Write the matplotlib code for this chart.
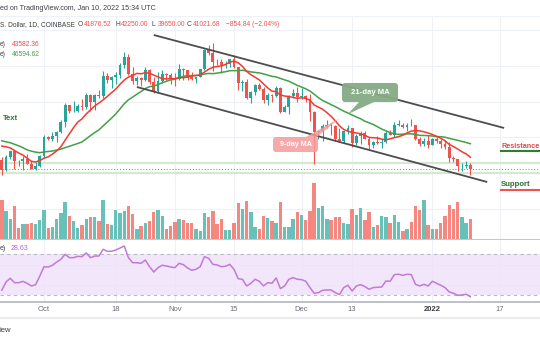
import numpy as np
import pandas as pd
import matplotlib
matplotlib.use("Agg")
import matplotlib.pyplot as plt
from matplotlib.patches import FancyBboxPatch, Polygon

plt.rcParams['font.family'] = ['Liberation Sans', 'DejaVu Sans']

# =========================
# DATA (BTC/USD daily, Coinbase)
# =========================
dates = pd.date_range("2021-09-21", "2022-01-10", freq="D")

opens = [42930, 40700, 43580, 44880, 42840, 42720, 43200, 42170, 41030, 41520,
         43790, 48140, 47660, 48230, 49250, 51510, 55340, 53800, 53970, 54960,
         54680, 57480, 56010, 57370, 57350, 61670, 60880, 61530, 62030, 64260,
         65990, 62210, 60690, 61300, 60860, 63080, 60330, 58450, 60590, 62250,
         61880, 61320, 60950, 63230, 62940, 61430, 61010, 61530, 63290, 67550,
         66940, 64880, 64800, 64150, 64400, 65500, 63600, 60100, 60370, 56900,
         58120, 59730, 58720, 56290, 57570, 57180, 58960, 53730, 54750, 57280,
         57830, 56980, 57200, 56510, 53600, 49200, 49400, 50580, 50620, 50500,
         47600, 47150, 49350, 50100, 46700, 48380, 48900, 47660, 46200, 46880,
         46700, 46900, 48950, 48600, 50820, 50850, 50430, 50800, 50700, 47540,
         46460, 47120, 46210, 47720, 47300, 46440, 45820, 43430, 43100, 41550,
         41690, 41876.52]
highs = [43640, 44000, 44980, 45100, 42980, 43950, 44350, 42800, 42600, 44100,
         48490, 48350, 49230, 49510, 51900, 55750, 55340, 56100, 55500, 56500,
         57800, 57680, 57760, 58530, 62900, 62340, 61700, 62700, 64500, 67000,
         66650, 63700, 61750, 61490, 63710, 63280, 61500, 62500, 62950, 62300,
         62420, 62400, 64280, 63540, 63140, 62600, 61570, 63290, 67800, 68520,
         69000, 65600, 65450, 64950, 65540, 66300, 63620, 60800, 60980, 58400,
         59850, 60050, 59300, 57870, 57740, 59400, 59180, 55300, 57450, 58880,
         59200, 59050, 57400, 57600, 53860, 49700, 50900, 51950, 51200, 50800,
         50100, 49500, 50750, 50200, 48700, 49500, 49450, 48000, 47300, 48300,
         47550, 49350, 49580, 51350, 51850, 51150, 51250, 52050, 50700, 48120,
         47900, 48550, 47950, 47990, 47570, 47500, 47070, 43750, 43140, 42300,
         42800, 42250]
lows = [39600, 40570, 43100, 40900, 41650, 40800, 42100, 40900, 40800, 41420,
        43300, 47430, 47120, 46900, 49050, 50400, 53400, 53650, 53700, 54100,
        54420, 53880, 54200, 56830, 56850, 60150, 58960, 59850, 61330, 63500,
        62000, 60000, 59700, 59530, 60650, 59900, 58000, 57820, 60170, 60700,
        60000, 59500, 60700, 60900, 60700, 60750, 60100, 61400, 63100, 66300,
        62800, 64100, 62300, 63400, 63600, 63530, 58600, 58400, 56500, 55600,
        57400, 58500, 55650, 55300, 55900, 57000, 53550, 53650, 53300, 56700,
        55900, 56500, 55850, 51700, 42000, 47700, 47100, 50000, 48600, 47300,
        46900, 46700, 48700, 45900, 46300, 46600, 47550, 45500, 45600, 46450,
        45550, 46650, 48450, 48080, 50450, 50200, 49450, 50450, 47350, 46100,
        46000, 45680, 46200, 46650, 45700, 45500, 42500, 42450, 40600, 40500,
        41250, 39650]
closes = [40700, 43580, 44880, 42840, 42720, 43200, 42170, 41030, 41520, 43790,
          48140, 47660, 48230, 49250, 51510, 55340, 53800, 53970, 54960, 54680,
          57480, 56010, 57370, 57350, 61670, 60880, 61530, 62030, 64260, 65990,
          62210, 60690, 61300, 60860, 63080, 60330, 58450, 60590, 62250, 61880,
          61320, 60950, 63230, 62940, 61430, 61010, 61530, 63290, 67550, 66940,
          64880, 64800, 64150, 64400, 65500, 63600, 60100, 60370, 56900, 58120,
          59730, 58720, 56290, 57570, 57180, 58960, 53730, 54750, 57280, 57830,
          56980, 57200, 56510, 53600, 49200, 49400, 50580, 50620, 50500, 47600,
          47150, 49350, 50100, 46700, 48380, 48900, 47660, 46200, 46880, 46700,
          46900, 48950, 48600, 50820, 50850, 50430, 50800, 50700, 47540, 46460,
          47120, 46210, 47720, 47300, 46440, 45820, 43430, 43100, 41550, 41690,
          41880, 41021.68]
# closes Sep 1 - Sep 20, only used to warm up the moving averages
pre_close = [48800, 49300, 50000, 49900, 51800, 52700, 46900, 46100, 46400, 44900,
             45200, 46100, 44900, 47100, 48100, 47800, 47300, 48300, 47300, 43000]

# volume, thousand BTC
volume = [27.1, 19.8, 14.0, 22.9, 7.7, 10.5, 10.5, 11.0, 10.5, 13.1,
          20.3, 7.7, 8.4, 14.0, 18.0, 25.9, 15.9, 12.8, 7.7, 9.6,
          14.0, 15.6, 15.2, 12.8, 27.1, 10.5, 9.6, 20.1, 18.2, 19.4,
          23.3, 17.5, 7.0, 8.9, 11.0, 12.6, 18.9, 20.1, 15.9, 7.0,
          8.9, 12.1, 13.8, 13.5, 11.4, 11.0, 7.0, 5.8, 18.0, 15.2,
          19.4, 10.5, 13.8, 6.3, 6.3, 11.0, 25.2, 21.0, 26.8, 18.9,
          8.2, 7.2, 15.9, 14.5, 12.8, 11.0, 25.9, 8.4, 8.4, 14.0,
          18.7, 16.8, 13.5, 19.6, 39.2, 21.7, 22.9, 14.2, 13.3, 15.6,
          15.6, 11.2, 10.7, 21.0, 17.0, 21.7, 13.1, 18.7, 8.4, 9.6,
          16.3, 15.4, 11.0, 16.8, 12.1, 5.8, 7.2, 11.7, 22.9, 20.5,
          27.5, 9.6, 7.0, 7.0, 11.2, 16.3, 23.8, 20.8, 25.7, 15.4,
          11.2, 14.0]

rsi = [35.0, 43.0, 46.6, 42.3, 42.3, 43.6, 41.7, 39.1, 40.3, 48.8,
       57.9, 57.6, 59.3, 62.5, 65.1, 70.0, 66.7, 66.7, 68.0, 67.7,
       71.3, 66.7, 68.3, 68.3, 74.9, 72.9, 72.9, 74.2, 76.1, 78.1,
       66.7, 61.8, 61.8, 61.2, 64.4, 57.9, 52.7, 57.0, 59.3, 58.6,
       57.6, 57.0, 61.2, 59.9, 56.7, 54.4, 55.4, 57.9, 67.7, 66.1,
       60.2, 59.6, 57.9, 58.3, 60.2, 55.4, 46.2, 45.6, 39.1, 41.7,
       45.6, 43.7, 39.1, 42.4, 41.7, 46.9, 36.5, 39.1, 45.6, 47.2,
       45.6, 45.3, 43.7, 37.5, 32.0, 32.6, 34.9, 35.2, 35.2, 32.6,
       30.7, 37.5, 39.8, 34.2, 39.1, 40.4, 38.5, 35.9, 37.5, 37.8,
       38.1, 44.0, 43.7, 50.2, 50.5, 49.5, 50.5, 50.2, 40.7, 39.1,
       40.7, 39.1, 43.7, 41.7, 39.8, 37.5, 33.3, 32.0, 30.0, 30.3,
       31.0, 28.63]

tick_dates = ["2021-10-01", "2021-10-18", "2021-11-01", "2021-11-15",
              "2021-12-01", "2021-12-13", "2022-01-01", "2022-01-17"]
tick_labels = ["Oct", "18", "Nov", "15", "Dec", "13", "2022", "17"]

price_grid = [32000, 40000, 48000, 56000, 64000, 72000]
channel_upper = [("2021-10-27", 70850), ("2022-01-18", 50100)]
channel_lower = [("2021-10-23", 59250), ("2022-01-14", 38050)]
levels = [42360, 40000]

# =========================
# COLOURS
# =========================
TEAL = '#26a69a'
RED = '#ef5350'
VTEAL = '#67c1b8'
VRED = '#f4877f'
GRID = '#eef1f6'

# =========================
# FIGURE / PANES
# =========================
W, H = 540, 340
fig = plt.figure(figsize=(W / 100, H / 100), dpi=100)
fig.patch.set_facecolor('white')


def rect(x0, y0, x1, y1):
    return [x0 / W, 1 - y1 / H, (x1 - x0) / W, (y1 - y0) / H]


def day(d):
    return (pd.Timestamp(d) - dates[0]).days


x = np.arange(len(dates))
xlim = (-0.43, 127.5)
tick_x = [day(d) for d in tick_dates]

ax_p = fig.add_axes(rect(0, 16, W, 239))
ax_v = fig.add_axes(rect(0, 179, W, 239))
ax_r = fig.add_axes(rect(0, 240, W, 302))

# ---- price pane ----
o, h, l, c = map(np.array, (opens, highs, lows, closes))
up = c >= o
col = np.where(up, TEAL, RED)
ax_p.vlines(x, l, h, colors=col, lw=0.8, zorder=3)
ax_p.bar(x, np.maximum(np.abs(c - o), 120), width=0.68, bottom=np.minimum(o, c),
         color=col, lw=0, zorder=4)

full = pd.Series(pre_close + closes)
ma9 = full.rolling(9).mean().to_numpy()[len(pre_close):]
ma21 = full.rolling(21).mean().to_numpy()[len(pre_close):]
ax_p.plot(x, ma21, color='#43a047', lw=1.1, zorder=5)
ax_p.plot(x, ma9, color='#f23b30', lw=1.1, zorder=5)

for line in (channel_upper, channel_lower):
    ax_p.plot([day(d) for d, _ in line], [p for _, p in line],
              color='#4d4d4d', lw=1.3, zorder=6, solid_capstyle='butt')

for lvl in levels:
    ax_p.axhline(lvl, color='#d3ead0', lw=1.6, zorder=2)
ax_p.axhline(closes[-1], color=RED, ls=(0, (1, 2)), lw=0.7, zorder=2)

ax_p.set_xlim(xlim)
ax_p.set_ylim(25337, 75088)
ax_p.set_xticks(tick_x)
ax_p.set_yticks(price_grid)
ax_p.grid(color=GRID, lw=0.8)
ax_p.set_axisbelow(True)
ax_p.tick_params(length=0, labelleft=False, labelbottom=False)
for s in ax_p.spines.values():
    s.set_visible(False)
ax_p.spines['bottom'].set_visible(True)
ax_p.spines['bottom'].set_color('#c5c8ce')

# ---- volume (overlay at bottom of price pane) ----
ax_v.bar(x, volume, width=0.8, color=np.where(up, VTEAL, VRED), lw=0)
ax_v.set_xlim(xlim)
ax_v.set_ylim(0, 42)
ax_v.axis('off')

# ---- RSI pane ----
ax_r.axhspan(30, 70, color='#efe0fa', alpha=0.8, lw=0, zorder=1)
for lvl in (30, 70):
    ax_r.axhline(lvl, color='#b9b9c4', ls=(0, (3, 3)), lw=0.8, zorder=2)
ax_r.plot(x, rsi, color='#c17ad6', lw=1.1, zorder=3)
ax_r.set_xlim(xlim)
ax_r.set_ylim(23.46, 83.95)
ax_r.set_yticks([40, 60])
ax_r.set_xticks(tick_x)
ax_r.set_xticklabels(tick_labels, fontsize=5.5, color='#6a6d78')
ax_r.get_xticklabels()[6].set_fontweight('bold')
ax_r.get_xticklabels()[6].set_color('#3a3d45')
ax_r.grid(color=GRID, lw=0.8)
ax_r.set_axisbelow(True)
ax_r.tick_params(length=0, pad=3, labelleft=False)
for s in ax_r.spines.values():
    s.set_visible(False)
ax_r.spines['bottom'].set_visible(True)
ax_r.spines['bottom'].set_color('#b2b5be')
ax_r.spines['bottom'].set_linewidth(1.2)

# =========================
# TEXT & DRAWINGS (pixel overlay)
# =========================
ov = fig.add_axes([0, 0, 1, 1])
ov.set_xlim(0, W)
ov.set_ylim(H, 0)
ov.axis('off')

DARK = '#3c3f46'
ov.plot([0, W], [16, 16], color=GRID, lw=0.8)
ov.plot([0, W], [318, 318], color='#ececec', lw=1.5)

ov.text(0, 8, "ed on TradingView.com, Jan 10, 2022 15:34 UTC", fontsize=5.1, color=DARK, va='center')
ov.text(0, 25, "S. Dollar, 1D, COINBASE", fontsize=4.8, color=DARK, va='center')
for lab, val, px in [("O", "41876.52", 78), ("H", "42250.00", 115), ("L", "39650.00", 152), ("C", "41021.68", 187)]:
    ov.text(px, 25, lab, fontsize=4.8, color=DARK, va='center')
    ov.text(px + 6, 25, val, fontsize=4.8, color=RED, va='center')
ov.text(226, 25, "\u2212854.84 (\u22122.04%)", fontsize=4.8, color=RED, va='center')

ov.text(0, 45, "e)", fontsize=4.8, color=DARK, va='center')
ov.text(12, 45, "43582.36", fontsize=4.8, color='#f2473d', va='center')
ov.text(0, 55, "e)", fontsize=4.8, color=DARK, va='center')
ov.text(12, 55, "46594.62", fontsize=4.8, color='#43a047', va='center')
ov.text(0, 248, "e)", fontsize=5, color=DARK, va='center')
ov.text(11, 248, "28.63", fontsize=5, color='#b565d0', va='center')
ov.text(0, 330, "iew", fontsize=5.5, color=DARK, va='center')

ov.text(3, 118, "Text", fontsize=5.6, fontweight='bold', color='#2e7d32', va='center')

ov.text(501, 146, "Resistance", fontsize=5.2, fontweight='bold', color='#e04a4a', va='center')
ov.plot([501, W], [151, 151], color='#2e7d32', lw=1.5)
ov.text(501, 184, "Support", fontsize=5.6, fontweight='bold', color='#2e6b30', va='center')
ov.plot([501, W], [190, 190], color=RED, lw=1.5)

# callouts
ov.add_patch(FancyBboxPatch((342, 83), 56, 19, boxstyle="round,pad=0,rounding_size=3",
                            fc='#84ab84', ec='none', alpha=0.95, zorder=7))
ov.add_patch(Polygon([(359, 102), (374, 102), (348, 114)], closed=True,
                     fc='#84ab84', ec='none', alpha=0.95, zorder=7))
ov.text(370, 92.5, "21-day MA", fontsize=5.6, fontweight='bold', color='white',
        ha='center', va='center', zorder=8)

ov.add_patch(FancyBboxPatch((273, 137), 45, 15, boxstyle="round,pad=0,rounding_size=3",
                            fc='#f59a9a', ec='none', alpha=0.85, zorder=7))
ov.add_patch(Polygon([(306, 137), (317, 137), (340, 118)], closed=True,
                     fc='#f59a9a', ec='none', alpha=0.85, zorder=7))
ov.text(295.5, 144.5, "9-day MA", fontsize=5.2, fontweight='bold', color='white',
        ha='center', va='center', zorder=8)

fig.savefig("out.png", dpi=100)
